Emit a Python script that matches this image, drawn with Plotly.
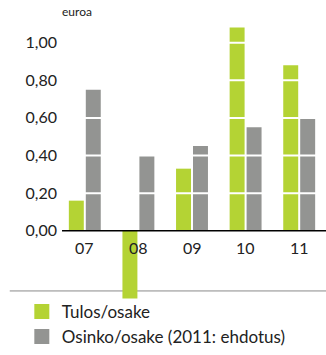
import plotly.graph_objects as go

# Vuosittaiset tunnusluvut (euroa)
years = ["07", "08", "09", "10", "11"]
tulos_osake = [0.16, -0.36, 0.33, 1.08, 0.88]
osinko_osake = [0.75, 0.40, 0.45, 0.55, 0.60]
y_ticks = [0.0, 0.2, 0.4, 0.6, 0.8, 1.0]
y_ticktext = ["0,00", "0,20", "0,40", "0,60", "0,80", "1,00"]
series_names = ["Tulos/osake", "Osinko/osake (2011: ehdotus)"]

GREEN = "#b4d334"
GREY = "#939492"
FONT = "Lato"

fig = go.Figure()
fig.add_trace(go.Bar(x=years, y=tulos_osake, marker_color=GREEN,
                     marker_line_width=0, showlegend=False))
fig.add_trace(go.Bar(x=years, y=osinko_osake, marker_color=GREY,
                     marker_line_width=0, showlegend=False))

# legend entries with larger square swatches
for name, col in zip(series_names, [GREEN, GREY]):
    fig.add_trace(go.Scatter(x=[years[0]], y=[None], mode="markers", name=name,
                             marker=dict(symbol="square", size=15, color=col)))

shapes = []
# white grid lines drawn over the bars
for v in y_ticks[1:]:
    shapes.append(dict(type="line", xref="paper", yref="y", x0=0, x1=1,
                       y0=v, y1=v, line=dict(color="white", width=2),
                       layer="above"))
# baseline at zero
shapes.append(dict(type="line", xref="paper", yref="y", x0=0.015, x1=1,
                   y0=0, y1=0, line=dict(color="black", width=1.5),
                   layer="above"))
# separator between the plot and the legend
shapes.append(dict(type="line", xref="paper", yref="paper", x0=-0.18, x1=1,
                   y0=0.05, y1=0.05, line=dict(color="#8a8a8a", width=1),
                   layer="below"))

# year labels just under the zero line (category index positions)
annotations = [dict(x=i, y=0, xref="x", yref="y", text=lab, showarrow=False,
                    yanchor="top", yshift=-5,
                    font=dict(family=FONT, size=16, color="#222"))
               for i, lab in enumerate(years)]
annotations.append(dict(x=0.07, y=1.0, xref="paper", yref="paper",
                        text="euroa", showarrow=False, yanchor="top",
                        xanchor="center", yshift=3,
                        font=dict(family=FONT, size=12, color="#222")))

fig.update_layout(
    width=326, height=355,
    margin=dict(l=58, r=0, t=5, b=41),
    paper_bgcolor="white", plot_bgcolor="white",
    barmode="group", bargap=0.367, bargroupgap=0.118,
    font=dict(family=FONT, color="#222"),
    xaxis=dict(type="category", categoryorder="array", categoryarray=years,
               range=[-0.5, len(years) - 0.5],
               showticklabels=False, showgrid=False, zeroline=False,
               showline=False, ticks=""),
    yaxis=dict(range=[-0.4, 1.2], tickvals=y_ticks, ticktext=y_ticktext,
               showgrid=False, zeroline=False, showline=False, ticks="",
               tickfont=dict(family=FONT, size=16, color="#222")),
    shapes=shapes, annotations=annotations,
    legend=dict(x=-0.135, y=0.04, xref="paper", yref="paper",
                xanchor="left", yanchor="top", bgcolor="rgba(0,0,0,0)",
                font=dict(family=FONT, size=17, color="#222"),
                itemclick=False),
)

fig.write_html("out.html")
